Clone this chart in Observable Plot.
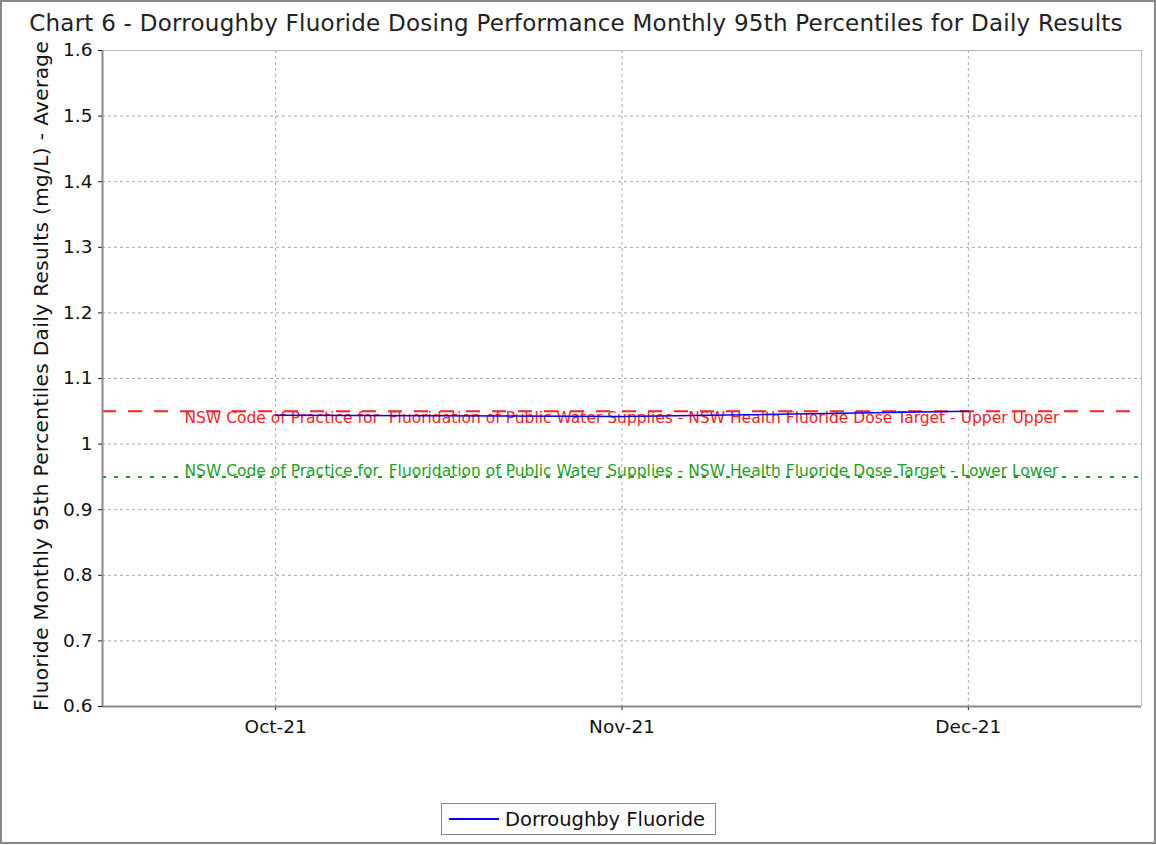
<!DOCTYPE html>
<html>
<head>
<meta charset="utf-8">
<script src="https://cdn.jsdelivr.net/npm/d3@7"></script>
<script src="https://cdn.jsdelivr.net/npm/@observablehq/plot@0.6"></script>
<style>
  html, body { margin: 0; padding: 0; background: #fff; }
  #wrap { position: relative; width: 1156px; height: 845px; overflow: hidden; font-family: "DejaVu Sans", Verdana, sans-serif; }
  #border { position: absolute; left: 0; top: 0; width: 1156px; height: 844px; box-sizing: border-box; border: 2px solid #888; pointer-events: none; }
  #title { position: absolute; left: 0; top: 9px; width: 1152px; text-align: center; font-size: 23px; letter-spacing: 0.25px; line-height: 28px; color: #222; white-space: pre; }
  #ylabel { position: absolute; left: 41px; top: 376px; width: 0; height: 0; }
  #ylabel span { position: absolute; left: 0; top: 0; transform: translate(-50%, -50%) rotate(-90deg); white-space: nowrap; font-size: 20px; letter-spacing: 0.4px; line-height: 22px; color: #111; }
  #chart { position: absolute; left: 0; top: 0; }
  #legend { position: absolute; left: 441px; top: 803px; width: 275px; height: 32px; box-sizing: border-box; border: 1px solid #888; background: #fff; display: flex; align-items: center; font-size: 19.5px; color: #111; }
  #legend .sw { display: inline-block; width: 50px; height: 0; border-top: 2px solid blue; margin-left: 7px; margin-right: 6px; }
</style>
</head>
<body>
<div id="wrap">
  <div id="chart"></div>
  <div id="title"></div>
  <div id="ylabel"><span id="ylabelText"></span></div>
  <div id="legend"><span class="sw"></span><span id="legendText"></span></div>
  <div id="border"></div>
</div>
<script>
// ---- Data ----
const chartTitle = "Chart 6 - Dorroughby Fluoride Dosing Performance Monthly 95th Percentiles for Daily Results";
const yLabel = "Fluoride Monthly 95th Percentiles Daily Results (mg/L) - Average";
const seriesName = "Dorroughby Fluoride";
const months = ["Oct-21", "Nov-21", "Dec-21"];
const fluoride = [1.044, 1.042, 1.05];
const yTicks = [0.6, 0.7, 0.8, 0.9, 1.0, 1.1, 1.2, 1.3, 1.4, 1.5, 1.6];
const yTickLabels = ["0.6", "0.7", "0.8", "0.9", "1", "1.1", "1.2", "1.3", "1.4", "1.5", "1.6"];
const upperTarget = 1.05;
const lowerTarget = 0.95;
const upperLabel = "NSW Code of Practice for \u00a0Fluoridation of Public Water Supplies - NSW Health Fluoride Dose Target - Upper Upper";
const lowerLabel = "NSW Code of Practice for \u00a0Fluoridation of Public Water Supplies - NSW Health Fluoride Dose Target - Lower Lower";
const upperColor = "#ff2020";
const lowerColor = "#1f9f1f";

// ---- Build ----
document.getElementById("title").textContent = chartTitle;
document.getElementById("ylabelText").textContent = yLabel;
document.getElementById("legendText").textContent = seriesName;

const monthIdx = months.map((m, i) => i);
const series = months.map((m, i) => ({i, value: fluoride[i]}));
const xd = [-0.5, months.length - 0.5];

const chart = Plot.plot({
  width: 1156,
  height: 760,
  marginLeft: 102,
  marginRight: 15,
  marginTop: 50,
  marginBottom: 54,
  style: {fontFamily: "DejaVu Sans, Verdana, sans-serif", fontSize: "18.5px", color: "#111", background: "transparent"},
  x: {
    type: "linear",
    domain: xd,
    ticks: monthIdx,
    tickFormat: d => months[d],
    tickSize: 4,
    tickPadding: 9,
    label: null
  },
  y: {
    domain: [0.6, 1.6],
    ticks: yTicks,
    tickFormat: d => yTickLabels[yTicks.findIndex(t => Math.abs(t - d) < 1e-9)],
    tickSize: 4,
    tickPadding: 6,
    label: null
  },
  marks: [
    Plot.ruleY(yTicks, {stroke: "#a8a8a8", strokeDasharray: "3,3", strokeWidth: 1}),
    Plot.ruleX(monthIdx, {stroke: "#a8a8a8", strokeDasharray: "3,3", strokeWidth: 1}),
    Plot.ruleY([1.6], {stroke: "#b8b8b8", strokeWidth: 1}),
    Plot.ruleX([xd[1]], {stroke: "#b8b8b8", strokeWidth: 1}),
    Plot.ruleY([upperTarget], {stroke: upperColor, strokeWidth: 2, strokeDasharray: "14,12"}),
    Plot.ruleY([lowerTarget], {stroke: lowerColor, strokeWidth: 2, strokeDasharray: "4,8"}),
    Plot.text([upperLabel], {
      y: () => upperTarget, text: d => d, fill: upperColor,
      frameAnchor: "left", textAnchor: "start", dx: 82, dy: 7, fontSize: 15.5
    }),
    Plot.text([lowerLabel], {
      y: () => lowerTarget, text: d => d, fill: lowerColor,
      frameAnchor: "left", textAnchor: "start", dx: 82, dy: -6, fontSize: 15.5
    }),
    Plot.line(series, {x: "i", y: "value", stroke: "blue", strokeWidth: 1.5}),
    Plot.ruleX([xd[0]], {stroke: "#888", strokeWidth: 2}),
    Plot.ruleY([0.6], {stroke: "#888", strokeWidth: 2})
  ]
});
document.getElementById("chart").appendChild(chart);
</script>
</body>
</html>
